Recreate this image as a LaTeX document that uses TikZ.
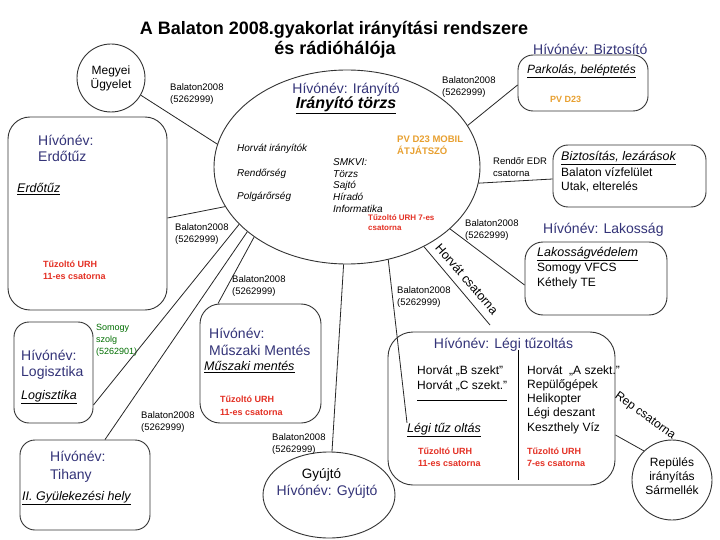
\documentclass[tikz,border=0pt]{standalone}
\usepackage{fontspec}
\setmainfont{Liberation Sans}
\usetikzlibrary{shapes.geometric}
\definecolor{navyc}{RGB}{51,51,120}
\definecolor{redc}{RGB}{228,48,36}
\definecolor{orc}{RGB}{232,160,48}
\definecolor{grc}{RGB}{0,110,0}
\begin{document}
\begin{tikzpicture}[x=1pt,y=-1pt,
  rbox/.style={draw=black!80, line width=0.9pt, rounded corners=#1, inner sep=0},
  conn/.style={draw=black!85, line width=0.8pt},
  tx/.style={inner sep=0, anchor=west, align=left},
  lbl/.style={tx, font=\fontsize{9.5}{12}\selectfont},
  navy/.style={tx, text=navyc, font=\fontsize{14}{16}\selectfont},
  body/.style={tx, font=\fontsize{12}{14}\selectfont},
  head/.style={tx, font=\fontsize{12.5}{15}\selectfont\itshape},
  redt/.style={tx, text=redc, font=\fontsize{9}{12}\selectfont\bfseries},
  oranget/.style={tx, text=orc, font=\fontsize{9.5}{12}\selectfont\bfseries},
  small/.style={tx, font=\fontsize{10}{11.75}\selectfont\itshape}
]
\useasboundingbox[fill=white] (0,0) rectangle (720,540);

% title
\node[inner sep=0, font=\fontsize{18}{20}\selectfont\bfseries] (title1) at (334,30) {A Balaton 2008.gyakorlat irányítási rendszere};
\node[inner sep=0, font=\fontsize{18}{20}\selectfont\bfseries] (title2) at (335,50) {és rádióhálója};

% central ellipse
\node[draw=black!80, line width=0.9pt, ellipse, minimum width=266, minimum height=194, inner sep=0] (ctrl) at (347,167) {};
\node[inner sep=0, text=navyc, font=\fontsize{14}{16}\selectfont] (ctrlt1) at (346,90) {Hívónév: Irányító};
\node[inner sep=0, font=\fontsize{16}{18}\selectfont\bfseries\itshape] (ctrlt2) at (346,105) {\underline{Irányító törzs}};
\node[small] (hirt) at (237,149) {Horvát irányítók};
\node[small] (rend) at (237,174) {Rendőrség};
\node[small] (polg) at (237,197) {Polgárőrség};
\node[small] (smkvi) at (333,185.5) {SMKVI:\\Törzs\\Sajtó\\Híradó\\Informatika};
\node[oranget] (pvmob) at (397,145) {PV D23 MOBIL\\ÁTJÁTSZÓ};
\node[tx, text=redc, font=\fontsize{8}{9.5}\selectfont\bfseries] (urh7c) at (368,222.5) {Tűzoltó URH 7-es\\csatorna};

% Megyei Ugyelet
\node[circle, draw=black!80, line width=0.9pt, minimum size=68, inner sep=0, align=center, font=\fontsize{12}{14}\selectfont] (meg) at (111,78) {Megyei\\Ügyelet};

% Erdotuz
\node[rbox=22pt, minimum width=159, minimum height=193] (erd) at (87.5,213.5) {};
\node[navy] (erdn) at (38,148) {Hívónév:\\Erdőtűz};
\node[head] (erdh) at (17,189) {\underline{Erdőtűz}};
\node[redt] (erdr) at (43,270) {Tűzoltó URH\\11-es csatorna};

% Logisztika
\node[rbox=15pt, minimum width=79, minimum height=101] (log) at (53.5,372.5) {};
\node[navy] (logn) at (21,365) {Hívónév:\\Logisztika};
\node[head] (logh) at (21,397) {\underline{Logisztika}};
\node[tx, text=grc, font=\fontsize{9}{12}\selectfont] (somsz) at (96,340) {Somogy\\szolg\\(5262901)};

% Tihany
\node[rbox=15pt, minimum width=130, minimum height=90] (tih) at (85,485) {};
\node[tx, text=navyc, font=\fontsize{14}{17.5}\selectfont] (tihn) at (50,467) {Hívónév:\\Tihany};
\node[head] (tihh) at (22,498) {\underline{II. Gyülekezési hely}};

% Muszaki
\node[rbox=20pt, minimum width=121, minimum height=119] (mus) at (260.5,363.5) {};
\node[tx, text=navyc, font=\fontsize{14}{17}\selectfont] (musn) at (209,341.5) {Hívónév:\\Műszaki Mentés};
\node[head] (mush) at (204,367) {\underline{Műszaki mentés}};
\node[redt, font=\fontsize{9}{13}\selectfont\bfseries] (musr) at (220,405.5) {Tűzoltó URH\\11-es csatorna};

% Gyujto
\node[draw=black!80, line width=0.9pt, ellipse, minimum width=132, minimum height=86, inner sep=0] (gyu) at (329,495) {};
\node[inner sep=0, font=\fontsize{13.5}{15}\selectfont] (gyut1) at (321.5,475) {Gyújtó};
\node[inner sep=0, text=navyc, font=\fontsize{14}{16}\selectfont] (gyut2) at (327,492) {Hívónév: Gyújtó};

% Legi tuzoltas
\node[rbox=25pt, minimum width=227, minimum height=153] (legi) at (501.5,408.5) {};
\node[inner sep=0, text=navyc, font=\fontsize{14}{16}\selectfont] (legin) at (503.5,345) {Hívónév: Légi tűzoltás};
\coordinate (dv1) at (518,350);
\coordinate (dv2) at (518,480);
\coordinate (dh1) at (417,400);
\coordinate (dh2) at (507,400);
\draw[black, line width=0.9pt] (dv1) -- (dv2);
\draw[black, line width=0.9pt] (dh1) -- (dh2);
\node[tx, font=\fontsize{12}{15}\selectfont] (legil) at (417,378.5) {Horvát „B szekt"\\Horvát „C szekt."};
\node[tx, font=\fontsize{12}{14.3}\selectfont] (legir) at (527,399.5) {Horvát \ „A szekt."\\Repülőgépek\\Helikopter\\Légi deszant\\Keszthely Víz};
\node[head] (legih) at (407,430) {\underline{Légi tűz oltás}};
\node[redt] (legir1) at (418,457) {Tűzoltó URH\\11-es csatorna};
\node[redt] (legir2) at (527,457) {Tűzoltó URH\\7-es csatorna};

% Repules iranyitas
\node[circle, draw=black!80, line width=0.9pt, minimum size=80, inner sep=0] (rep) at (672,480) {};
\node[inner sep=0, align=center, font=\fontsize{12}{14}\selectfont] (rept) at (672,476) {Repülés\\irányítás\\Sármellék};

% Lakossag
\node[navy] (lakn) at (543,230) {Hívónév: Lakosság};
\node[rbox=18pt, minimum width=142, minimum height=73] (lak) at (596,278.5) {};
\node[head] (lakh) at (537,254) {\underline{Lakosságvédelem}};
\node[tx, font=\fontsize{12}{15.7}\selectfont] (lakb) at (537,276) {Somogy VFCS\\Kéthely TE};

% Biztositas
\node[rbox=15pt, minimum width=153, minimum height=62] (biz) at (629.5,176) {};
\node[head] (bizh) at (561,158) {\underline{Biztosítás, lezárások}};
\node[body] (bizb) at (561,180) {Balaton vízfelület\\Utak, elterelés};

% Biztosito
\node[navy] (parkn) at (533,49) {Hívónév: Biztosító};
\node[rbox=15pt, minimum width=130, minimum height=56] (park) at (583,83) {};
\node[head, font=\fontsize{12}{14}\selectfont\itshape] (parkh) at (527,71) {\underline{Parkolás, beléptetés}};
\node[oranget, font=\fontsize{9}{11}\selectfont\bfseries] (parkpv) at (550,99) {PV D23};

% connector labels
\node[lbl] (l1) at (170,94) {Balaton2008\\(5262999)};
\node[lbl] (l2) at (442,87) {Balaton2008\\(5262999)};
\node[lbl] (l3) at (175,234.5) {Balaton2008\\(5262999)};
\node[lbl] (l4) at (232,286) {Balaton2008\\(5262999)};
\node[lbl] (l5) at (141,422.5) {Balaton2008\\(5262999)};
\node[lbl] (l6) at (272,444) {Balaton2008\\(5262999)};
\node[lbl] (l7) at (397,297.5) {Balaton2008\\(5262999)};
\node[lbl] (l8) at (465,230) {Balaton2008\\(5262999)};
\node[lbl] (l9) at (493,167) {Rendőr EDR\\csatorna};
\node[inner sep=0, rotate=-49, font=\fontsize{12.5}{14}\selectfont] (hct) at (467,279) {Horvát csatorna};
\node[inner sep=0, rotate=-35.6, font=\fontsize{12}{14}\selectfont] (rct) at (645,416) {Rep csatorna};

% connectors
\coordinate (hcend) at (490,325);
\draw[conn] (meg.-30) -- (ctrl.170);
\draw[conn] ([yshift=-4.5pt]erd.east) -- (ctrl.198);
\draw[conn] ([yshift=-32.5pt]log.east) -- (ctrl.208);
\draw[conn] ([xshift=20pt]tih.north) -- (ctrl.213);
\draw[conn] ([xshift=-42.5pt]mus.north) -- (ctrl.217);
\draw[conn] ([xshift=3pt]gyu.north) -- (ctrl.268);
\draw[conn] (ctrl.294) -- (legih.north west);
\draw[conn] (ctrl.-46) -- (hcend);
\draw[conn] (ctrl.-31) -- ([yshift=-6.5pt]lak.west);
\draw[conn] (ctrl.-7) -- ([yshift=-3pt]biz.west);
\draw[conn] (ctrl.19) -- ([yshift=-2pt]park.west);
\draw[conn] ([yshift=-26.5pt]legi.east) -- (rep.134);
\end{tikzpicture}
\end{document}
